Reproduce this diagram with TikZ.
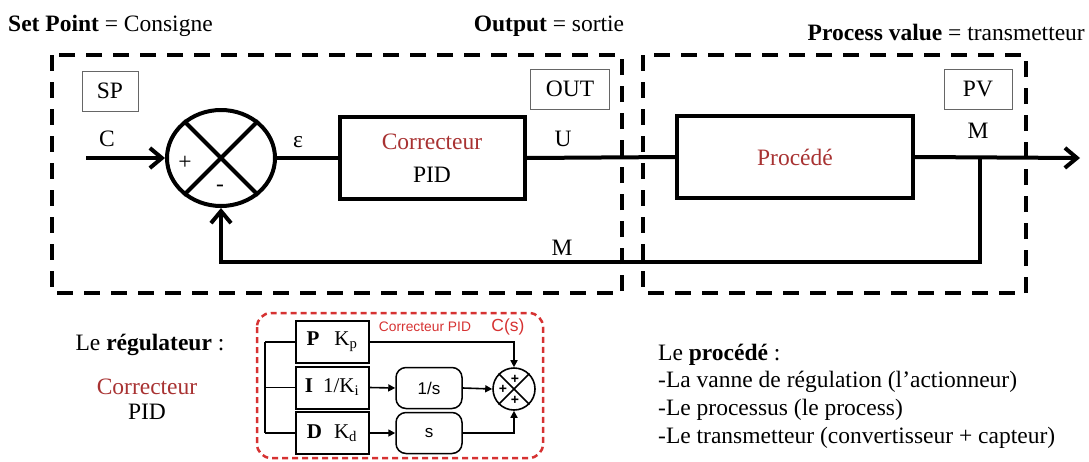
\documentclass[tikz,border=0pt]{standalone}
\usepackage{fontspec}
\setmainfont{Liberation Serif}
\setsansfont{Liberation Sans}
\usepackage{xcolor}
\usetikzlibrary{shapes.geometric, arrows.meta, positioning}
\definecolor{corrred}{RGB}{168,50,50}
\definecolor{pidred}{RGB}{214,50,50}

\begin{document}
\begin{tikzpicture}[x=1pt, y=-1pt,
  every node/.style={inner sep=0pt, font=\fontsize{23.5}{27}\selectfont},
  bloc/.style={draw, line width=4pt, minimum height=82pt, align=center,
               font=\fontsize{23.5}{33}\selectfont},
  etiq/.style={draw=black!60, line width=0.8pt, minimum width=#1, minimum height=40pt},
  zone/.style={line width=4pt, dash pattern=on 16pt off 11pt},
  wire/.style={line width=4pt},
  arr/.style={wire, -{Straight Barb[length=12pt, width=20pt]}},
  pidbox/.style={draw, line width=2pt, minimum width=73pt, minimum height=42pt,
                 font=\fontsize{21}{24}\selectfont},
  opbox/.style={draw, rounded corners=10pt, line width=1.5pt, minimum width=66pt,
                minimum height=41pt, font=\sffamily\fontsize{17}{20}\selectfont},
  fil/.style={line width=1.6pt},
  tarr/.style={fil, -{Triangle[length=7pt, width=7pt]}},
  sgn/.style={font=\sffamily\bfseries\fontsize{14}{14}\selectfont}
]
  \useasboundingbox (0,0) rectangle (1089,461);

  % titres
  \node[anchor=base west] (spt) at (8,31)   {\textbf{Set Point} = Consigne};
  \node[anchor=base]      (opt) at (549,31) {\textbf{Output} = sortie};
  \node[anchor=base east] (pvt) at (1085,40) {\textbf{Process value} = transmetteur};

  % zones
  \draw[zone] (52,55) rectangle (622,293);
  \draw[zone] (643,55) rectangle (1026,293);

  \node[etiq=56pt] (sp)  at (110,91) {SP};
  \node[etiq=79pt] (out) at (570,89) {OUT};
  \node[etiq=68pt] (pv)  at (978,89) {PV};

  % boucle
  \coordinate (cin)  at (86,158);
  \node[draw, ellipse, line width=4pt, minimum width=108pt, minimum height=96pt]
        (sum) at (221,158) {};
  \draw[wire] (sum.45) -- (sum.225);
  \draw[wire] (sum.135) -- (sum.315);
  \node (plus)  at (185,163) {+};
  \node (moins) at (220,188) {-};

  \node[bloc, minimum width=185pt] (corr) at (432,158)
        {\textcolor{corrred}{Correcteur}\\PID};
  \node[bloc, minimum width=236pt] (proc) at (795,157)
        {\textcolor{corrred}{Procédé}};
  \coordinate (tap)  at (980,158);
  \coordinate (fbr)  at (980,262);
  \coordinate (cout) at (1080,158);

  \draw[arr]  (cin) -- (sum.west);
  \draw[wire] (sum.east) -- (corr.west);
  \draw[wire] (corr.east) -- (proc.west);
  \draw[arr]  (proc.east) -- (cout);
  \draw[arr]  (tap) -- (fbr) -| (sum.south);

  \node (lc)   at (107,139) {C};
  \node (leps) at (298,142) {ε};
  \node (lu)   at (563,139) {U};
  \node (lm)   at (978,131) {M};
  \node (lfb)  at (562,248) {M};

  % regulateur
  \node (reg)  at (150,345) {Le \textbf{régulateur} :};
  \node[text=corrred] (regc) at (147,387) {Correcteur};
  \node (regp) at (147,412) {PID};

  % correcteur PID
  \draw[pidred, line width=2.5pt, dash pattern=on 6pt off 4pt, rounded corners=14pt]
        (257,313) rectangle (543,458);
  \node[text=pidred, font=\sffamily\fontsize{13.8}{16}\selectfont] (cpid) at (425,327)
        {Correcteur PID};
  \node[text=pidred, font=\sffamily\fontsize{17.5}{20}\selectfont] (cs) at (508,327) {C(s)};

  \node[pidbox] (kp) at (332,342)   {\textbf{P}\hspace{15pt}K\textsubscript{p}};
  \node[pidbox] (ki) at (332,387.5) {\textbf{I}\hspace{10pt}1/K\textsubscript{i}};
  \node[pidbox] (kd) at (332,433)   {\textbf{D}\hspace{12pt}K\textsubscript{d}};
  \coordinate (bus1) at (265,342);
  \coordinate (bus2) at (265,387.5);
  \coordinate (bus3) at (265,433);
  \draw[fil] (bus1) -- (bus3);
  \draw[fil] (bus1) -- (kp.west);
  \draw[fil] (bus2) -- (ki.west);
  \draw[fil] (bus3) -- (kd.west);

  \node[opbox] (integ) at (429,388) {1/s};
  \node[opbox] (deriv) at (429,433) {s};
  \node[draw, circle, fil, minimum size=42pt] (sum2) at (514,389) {};
  \draw[fil] (sum2.45) -- (sum2.225);
  \draw[fil] (sum2.135) -- (sum2.315);
  \node[sgn] at (515,379) {+};
  \node[sgn] at (503,389) {+};
  \node[sgn] at (515,400) {+};

  \draw[tarr] (kp.east) -| (sum2.north);
  \draw[tarr] (ki.east) -- (integ.west);
  \draw[tarr] (integ.east) -- (sum2.west);
  \draw[tarr] (kd.east) -- (deriv.west);
  \draw[tarr] (deriv.east) -| (sum2.south);

  % procede
  \node[anchor=base west] (pr0) at (658,360) {Le \textbf{procédé} :};
  \node[anchor=base west] (pr1) at (658,387) {-La vanne de régulation (l’actionneur)};
  \node[anchor=base west] (pr2) at (658,415) {-Le processus (le process)};
  \node[anchor=base west] (pr3) at (658,443) {-Le transmetteur (convertisseur + capteur)};
\end{tikzpicture}
\end{document}
